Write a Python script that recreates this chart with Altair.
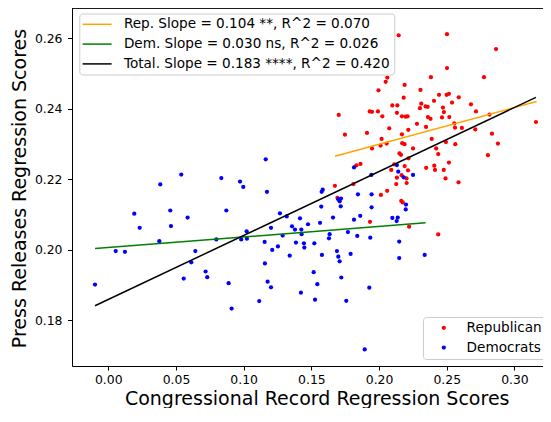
import altair as alt
import pandas as pd

# Democrats scatter
dem_x = [0.0539, 0.0384, 0.0192, 0.0458, 0.0586, 0.0232, 0.0463, 0.0377, 0.0055, 0.0123,
         0.0643, 0.0613, 0.0557, -0.0098, 0.1163, 0.0835, 0.0973, 0.0997, 0.1172, 0.0872,
         0.1268, 0.1318, 0.1416, 0.1475, 0.1202, 0.1357, 0.1379, 0.1426, 0.1022, 0.0798,
         0.0982, 0.1024, 0.1288, 0.1428, 0.1155, 0.1386, 0.1445, 0.1448, 0.1522, 0.1253,
         0.1211, 0.1340, 0.1157, 0.0719, 0.0731, 0.1517, 0.0889, 0.1177, 0.1202, 0.1423,
         0.1527, 0.1115, 0.0911, 0.1815, 0.2132, 0.1943, 0.2142, 0.2251, 0.2182, 0.1584,
         0.1576, 0.1844, 0.1945, 0.1699, 0.1719, 0.1709, 0.1573, 0.1717, 0.1945, 0.2199,
         0.2197, 0.1660, 0.1861, 0.1815, 0.2098, 0.2138, 0.2130, 0.1564, 0.1770, 0.1635,
         0.1630, 0.1839, 0.1935, 0.2149, 0.1689, 0.1578, 0.1790, 0.1699, 0.1709, 0.2149,
         0.2337, 0.1721, 0.1544, 0.1928, 0.1758, 0.1894]
dem_y = [0.2213, 0.2185, 0.2102, 0.2111, 0.2091, 0.2062, 0.2067, 0.2024, 0.1996, 0.1994,
         0.1996, 0.1964, 0.1918, 0.1901, 0.2256, 0.2203, 0.2193, 0.2178, 0.2164, 0.2111,
         0.2103, 0.2094, 0.2089, 0.2072, 0.2062, 0.2066, 0.2057, 0.2057, 0.2052, 0.2029,
         0.2029, 0.2031, 0.2040, 0.2044, 0.2022, 0.2020, 0.2018, 0.2006, 0.2018, 0.2009,
         0.1999, 0.1983, 0.1961, 0.1938, 0.1922, 0.1936, 0.1905, 0.1909, 0.1893, 0.1878,
         0.1858, 0.1854, 0.1833, 0.2233, 0.2240, 0.2212, 0.2221, 0.2212, 0.2205, 0.2170,
         0.2164, 0.2157, 0.2157, 0.2143, 0.2145, 0.2137, 0.2122, 0.2123, 0.2120, 0.2128,
         0.2114, 0.2091, 0.2096, 0.2085, 0.2090, 0.2091, 0.2081, 0.2076, 0.2050, 0.2044,
         0.2032, 0.2039, 0.2034, 0.2023, 0.1996, 0.1985, 0.1988, 0.1980, 0.1967, 0.1976,
         0.1985, 0.1921, 0.1902, 0.1892, 0.1855, 0.1717]

# Republican scatter
rep_x = [0.2145, 0.2502, 0.2864, 0.2502, 0.2775, 0.2383, 0.2061, 0.2049, 0.2189, 0.1996,
         0.2306, 0.2443, 0.2499, 0.2516, 0.2589, 0.2182, 0.2406, 0.2312, 0.2539, 0.2679,
         0.2098, 0.2135, 0.2302, 0.2344, 0.2359, 0.2472, 0.1931, 0.1948, 0.1992, 0.2132,
         0.2479, 0.2716, 0.1702, 0.2024, 0.2169, 0.2197, 0.2211, 0.2361, 0.2380, 0.2465,
         0.2519, 0.2816, 0.2280, 0.2216, 0.2347, 0.2556, 0.2561, 0.2612, 0.2711, 0.2075,
         0.3159, 0.1748, 0.1911, 0.2834, 0.2169, 0.2019, 0.2056, 0.1948, 0.2011, 0.2171,
         0.2188, 0.2251, 0.2151, 0.2162, 0.2217, 0.2389, 0.2422, 0.2437, 0.2494, 0.2563,
         0.2878, 0.2804, 0.2516, 0.2408, 0.2413, 0.2478, 0.2491, 0.2587, 0.2348, 0.1833,
         0.1863, 0.2112, 0.2189, 0.2090, 0.2214, 0.2132, 0.2167, 0.2203, 0.2204, 0.2127,
         0.1674, 0.1811, 0.2060, 0.2014, 0.1693, 0.2164, 0.2175, 0.1933, 0.2222, 0.2437]
rep_y = [0.2608, 0.2611, 0.2569, 0.2515, 0.2489, 0.2489, 0.2488, 0.2476, 0.2467, 0.2452,
         0.2453, 0.2439, 0.2439, 0.2442, 0.2432, 0.2431, 0.2422, 0.2414, 0.2417, 0.2412,
         0.2409, 0.2409, 0.2401, 0.2406, 0.2405, 0.2403, 0.2392, 0.2391, 0.2392, 0.2388,
         0.2390, 0.2392, 0.2382, 0.2378, 0.2378, 0.2377, 0.2378, 0.2376, 0.2371, 0.2375,
         0.2376, 0.2383, 0.2357, 0.2340, 0.2348, 0.2358, 0.2346, 0.2345, 0.2341, 0.2344,
         0.2362, 0.2326, 0.2331, 0.2329, 0.2327, 0.2314, 0.2301, 0.2287, 0.2295, 0.2302,
         0.2299, 0.2287, 0.2273, 0.2269, 0.2259, 0.2314, 0.2287, 0.2271, 0.2305, 0.2299,
         0.2301, 0.2268, 0.2247, 0.2238, 0.2226, 0.2226, 0.2202, 0.2191, 0.2232, 0.2239,
         0.2243, 0.2242, 0.2237, 0.2226, 0.2225, 0.2204, 0.2211, 0.2202, 0.2189, 0.2186,
         0.2181, 0.2186, 0.2167, 0.2155, 0.2147, 0.2138, 0.2134, 0.2079, 0.2065, 0.2043]

party_names = ["Republican", "Democrats"]
party_colors = ["#ff0000", "#0000ff"]

# fitted regression lines (endpoints)
line_names = ["Rep. Slope = 0.104 **, R^2 = 0.070",
              "Dem. Slope = 0.030 ns, R^2 = 0.026",
              "Total. Slope = 0.183 ****, R^2 = 0.420"]
line_x0 = [0.1674, -0.0098, -0.0098]
line_y0 = [0.2265, 0.2003, 0.1841]
line_x1 = [0.3164, 0.2344, 0.3159]
line_y1 = [0.2420, 0.2076, 0.2432]
line_colors = ["orange", "green", "black"]

x_ticks = [0.0, 0.05, 0.10, 0.15, 0.20, 0.25, 0.30]
y_ticks = [0.18, 0.20, 0.22, 0.24, 0.26]
x_domain = [-0.0268, 0.3211]
y_domain = [0.1670, 0.26853]

W, H = 471, 358
FONT = "DejaVu Sans"

pts = pd.concat([
    pd.DataFrame({"x": rep_x, "y": rep_y, "party": party_names[0]}),
    pd.DataFrame({"x": dem_x, "y": dem_y, "party": party_names[1]}),
], ignore_index=True)

lines = pd.DataFrame({"name": line_names, "x0": line_x0, "y0": line_y0,
                      "x1": line_x1, "y1": line_y1})

xscale = alt.Scale(domain=x_domain, nice=False, zero=False)
yscale = alt.Scale(domain=y_domain, nice=False, zero=False)

xaxis = alt.Axis(values=x_ticks, format=".2f", grid=False,
                 title="Congressional Record Regression Scores",
                 titleFontSize=19, titleFontWeight="normal", titleFont=FONT,
                 titleColor="black", titleX=244.7, titleY=38,
                 titleAlign="center", titleBaseline="alphabetic",
                 labelFontSize=12.4, labelFont=FONT, labelColor="black",
                 labelFlush=False, labelOverlap=False,
                 tickSize=4, labelPadding=3.5, tickColor="black",
                 domainColor="black", domainWidth=1)
yaxis = alt.Axis(values=y_ticks, format=".2f", grid=False,
                 title="Press Releases Regression Scores",
                 titleFontSize=19, titleFontWeight="normal", titleFont=FONT,
                 titleColor="black", titleX=-47, titleY=180,
                 titleAlign="center", titleBaseline="alphabetic",
                 labelFontSize=12.4, labelFont=FONT, labelColor="black",
                 labelFlush=False, labelOverlap=False,
                 tickSize=4.5, labelPadding=5.5, tickColor="black",
                 domainColor="black", domainWidth=1)

points = alt.Chart(pts).mark_circle(size=18, opacity=1).encode(
    x=alt.X("x:Q", scale=xscale, axis=xaxis),
    y=alt.Y("y:Q", scale=yscale, axis=yaxis),
    fill=alt.Fill("party:N",
                  scale=alt.Scale(domain=party_names, range=party_colors),
                  legend=alt.Legend(title=None, orient="none", legendX=351, legendY=309,
                                    padding=4, rowPadding=4.8, symbolType="circle",
                                    symbolSize=18, symbolOffset=10, labelOffset=16,
                                    labelFontSize=13.6, labelFont=FONT, labelColor="black",
                                    fillColor="rgba(255,255,255,0.8)", strokeColor="#cccccc",
                                    cornerRadius=3)),
)

rules = alt.Chart(lines).mark_rule(strokeWidth=1.5).encode(
    x="x0:Q", y="y0:Q", x2="x1:Q", y2="y1:Q",
    stroke=alt.Stroke("name:N",
                      scale=alt.Scale(domain=line_names, range=line_colors),
                      legend=alt.Legend(title=None, orient="none", legendX=7.3, legendY=5.5,
                                        padding=4, rowPadding=4.8,
                                        symbolType="M-1.5,0L4.3,0", symbolSize=100,
                                        symbolStrokeWidth=1.5, labelOffset=27,
                                        labelFontSize=13.6, labelFont=FONT, labelColor="black",
                                        labelLimit=400,
                                        fillColor="rgba(255,255,255,0.8)", strokeColor="#cccccc",
                                        cornerRadius=3)),
)

top_spine = alt.Chart(lines).mark_rule(color="black", strokeWidth=1).encode(
    x=alt.value(0), x2=alt.value(W), y=alt.value(0))

chart = alt.layer(points, rules, top_spine).properties(
    width=W, height=H, autosize="none",
    padding={"left": 64, "top": 0, "right": 0, "bottom": 42},
).configure_view(stroke="transparent").configure(font=FONT)

chart.save("out.html", embed_options={"renderer": "svg", "actions": False})
